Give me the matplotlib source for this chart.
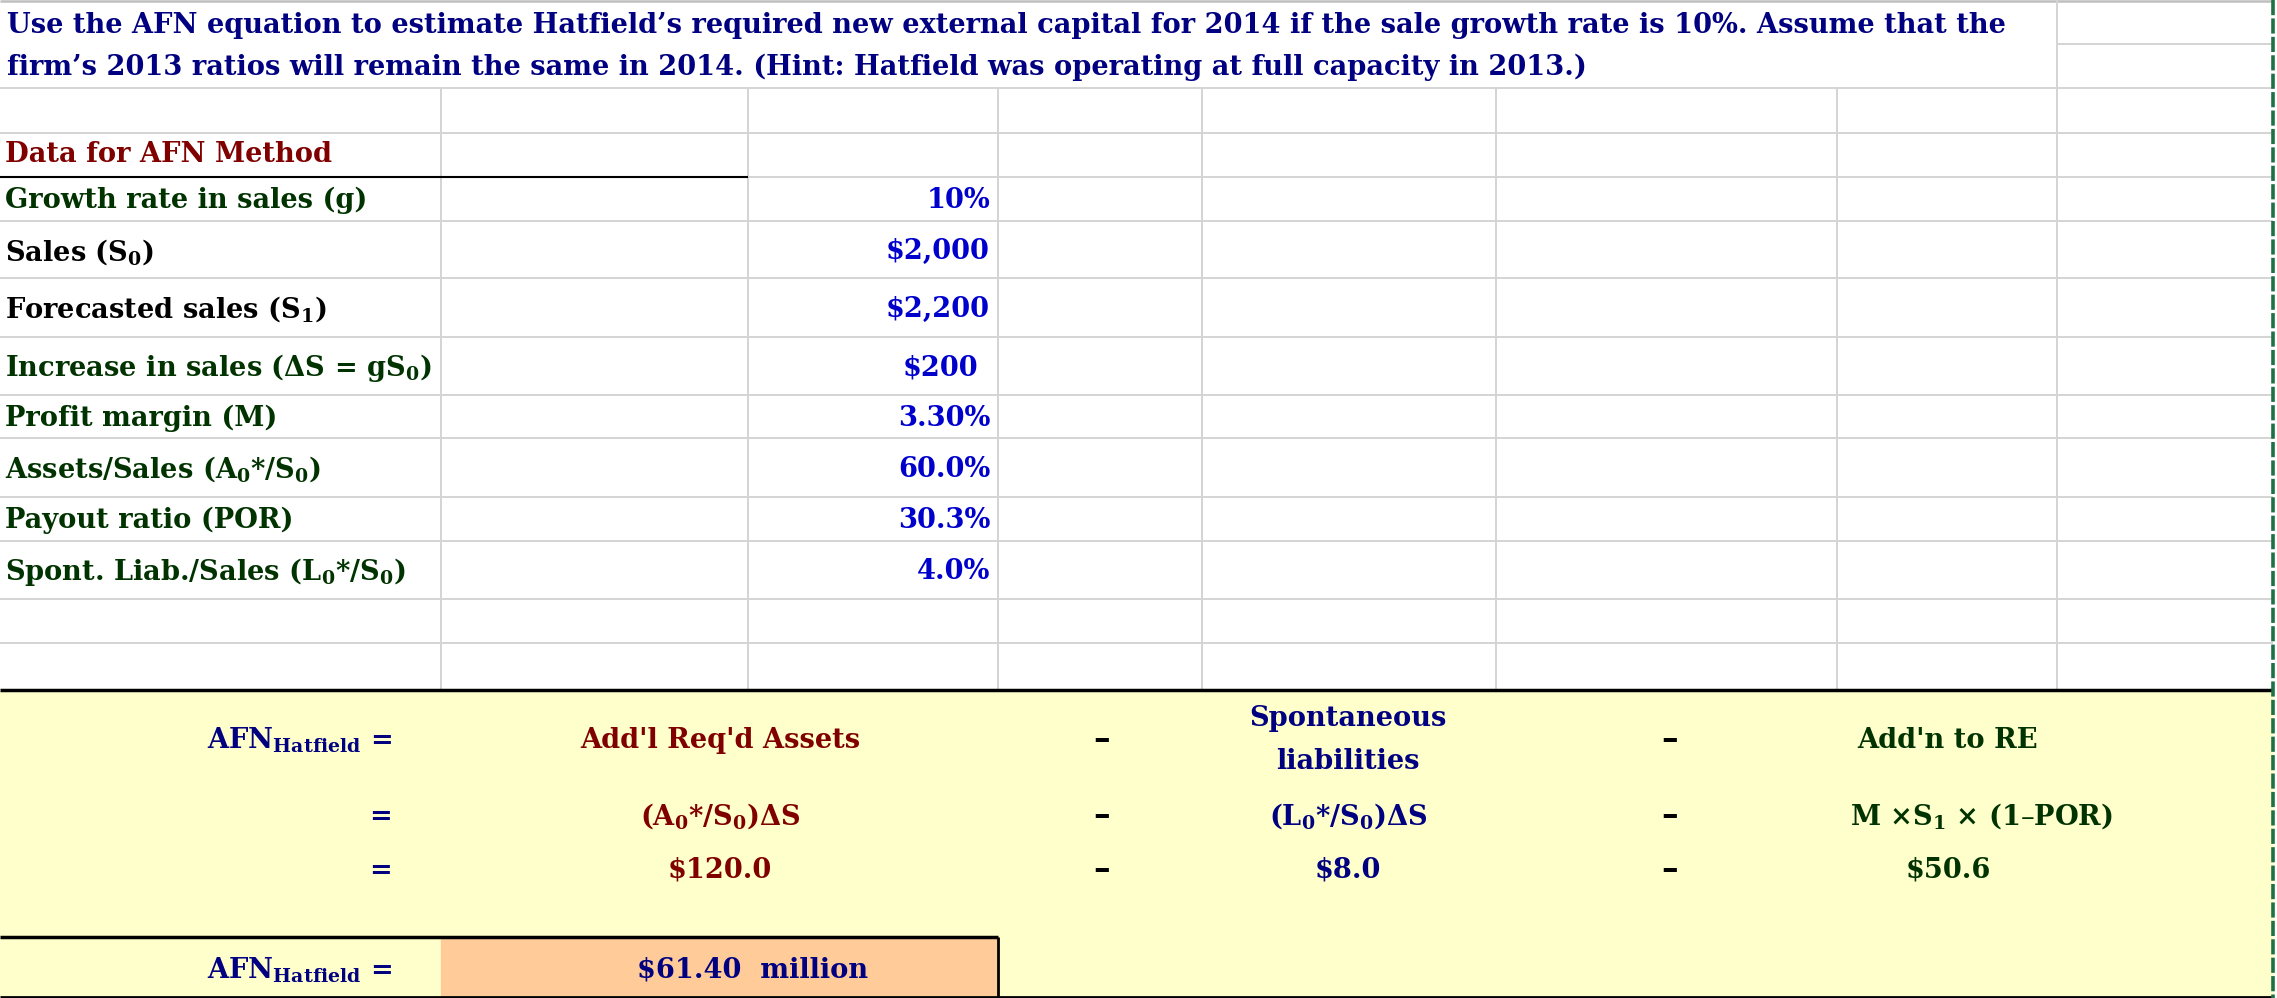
import matplotlib
matplotlib.use("Agg")
import matplotlib.pyplot as plt
from matplotlib.patches import Rectangle

plt.rcParams["font.family"] = ["DejaVu Serif"]
plt.rcParams["font.weight"] = "bold"
plt.rcParams["mathtext.fontset"] = "dejavuserif"

# ---- sheet content ----
title_lines = [
    "Use the AFN equation to estimate Hatfield’s required new external capital for 2014 if the sale growth rate is 10%. Assume that the",
    "firm’s 2013 ratios will remain the same in 2014. (Hint: Hatfield was operating at full capacity in 2013.)",
]
section_title = "Data for AFN Method"
input_labels = [
    "Growth rate in sales (g)",
    r"Sales (S$_\mathbf{0}$)",
    r"Forecasted sales (S$_\mathbf{1}$)",
    r"Increase in sales (ΔS = gS$_\mathbf{0}$)",
    "Profit margin (M)",
    r"Assets/Sales (A$_\mathbf{0}$*/S$_\mathbf{0}$)",
    "Payout ratio (POR)",
    r"Spont. Liab./Sales (L$_\mathbf{0}$*/S$_\mathbf{0}$)",
]
input_values = [r"10%", r"\$2,000", r"\$2,200", r"\$200", r"3.30%", r"60.0%", r"30.3%", r"4.0%"]

afn_label = r"AFN$_\mathbf{Hatfield}$ ="
term_names = ["Add'l Req'd Assets", "Spontaneous\nliabilities", "Add'n to RE"]
term_formulas = [r"(A$_\mathbf{0}$*/S$_\mathbf{0}$)ΔS", r"(L$_\mathbf{0}$*/S$_\mathbf{0}$)ΔS",
                 r"M ×S$_\mathbf{1}$ × (1–POR)"]
term_values = [r"\$120.0", r"\$8.0", r"\$50.6"]
afn_result = r"\$61.40  million"

# ---- colours ----
navy = "#000080"
dark_red = "#800000"
green = "#003300"
blue = "#0000CC"
grid = "#D4D4D4"
label_colors = [green, "black", "black", green, green, green, green, green]
term_colors = [dark_red, navy, green]

# ---- layout (pixels) ----
W, H = 2277, 998
FS = 19.6
col_x = [441, 748, 998, 1202, 1496, 1837, 2057]
row_y = [88.3, 132.7, 176.7, 220.7, 278.3, 336.7, 395, 438.3, 496.7, 540.7, 599, 642.7]
right_edge = 2273
yellow_top, box_top, bottom = 690, 936.7, 996.7

fig = plt.figure(figsize=(W / 100, H / 100), dpi=100)
ax = fig.add_axes([0, 0, 1, 1])
ax.set_xlim(0, W)
ax.set_ylim(H, 0)
ax.axis("off")

# gridlines
ax.hlines(1.2, 0, right_edge, color="#BFBFBF", lw=1.8)
ax.vlines(col_x, row_y[0], yellow_top, color=grid, lw=1.4)
ax.vlines(col_x[-1], 0, row_y[0], color=grid, lw=1.4)
ax.hlines(row_y, 0, right_edge, color=grid, lw=1.4)
ax.hlines(44, col_x[-1], right_edge, color=grid, lw=1.4)
ax.hlines(row_y[2], 0, col_x[1], color="black", lw=1.5, zorder=3)

# formula block
ax.add_patch(Rectangle((0, yellow_top), right_edge, bottom - yellow_top, color="#FFFFCC", zorder=2))
ax.add_patch(Rectangle((col_x[0], box_top), col_x[2] - col_x[0], bottom - box_top, color="#FFCC99", zorder=2))
ax.hlines(yellow_top, 0, right_edge, color="black", lw=2.5, zorder=3)
ax.hlines(box_top, 0, col_x[2], color="black", lw=2.5, zorder=3)
ax.vlines(col_x[2], box_top, bottom, color="black", lw=2, zorder=3)
ax.hlines(bottom, 0, right_edge, color="black", lw=2, zorder=3)
ax.vlines(right_edge, 0, H, color="#1E7145", lw=2.6, linestyles=(0, (4.2, 0.9)), zorder=4)

# title
for i, line in enumerate(title_lines):
    ax.text(7, 25 + 42 * i, line, color=navy, fontsize=FS, va="center", ha="left", zorder=5)

# input data
ax.text(5, (row_y[1] + row_y[2]) / 2, section_title, color=dark_red, fontsize=FS, va="center", zorder=5)
for i, (lab, val) in enumerate(zip(input_labels, input_values)):
    yc = (row_y[i + 2] + row_y[i + 3]) / 2 + 2
    ax.text(5, yc, lab, color=label_colors[i], fontsize=FS, va="center", zorder=5)
    xr = 978 if val == r"\$200" else 990
    ax.text(xr, yc, val, color=blue, fontsize=FS, va="center", ha="right", zorder=5)

# AFN equation
term_x = [720, 1348, 1948]
minus_x = [1102, 1670]
rows_y = [740, 816, 870]
ax.text(392, rows_y[0], afn_label, color=navy, fontsize=FS, ha="right", va="center", zorder=5)
for yy in rows_y[1:]:
    ax.text(392, yy, "=", color=navy, fontsize=FS, ha="right", va="center", zorder=5)
for j in range(3):
    ax.text(term_x[j], rows_y[0], term_names[j], color=term_colors[j], fontsize=FS,
            ha="center", va="center", linespacing=1.75, zorder=5)
    fx = 1981 if j == 2 else term_x[j]
    ax.text(fx, rows_y[1], term_formulas[j], color=term_colors[j], fontsize=FS,
            ha="center", va="center", zorder=5)
    ax.text(term_x[j], rows_y[2], term_values[j], color=term_colors[j], fontsize=FS,
            ha="center", va="center", zorder=5)
for mx in minus_x:
    for yy in rows_y:
        ax.text(mx, yy, "–", color="black", fontsize=24, ha="center", va="center", zorder=5)

ax.text(392, 970, afn_label, color=navy, fontsize=FS, ha="right", va="center", zorder=5)
ax.text(753, 970, afn_result, color=navy, fontsize=FS, ha="center", va="center", zorder=5)

fig.savefig("out.png", dpi=100)
